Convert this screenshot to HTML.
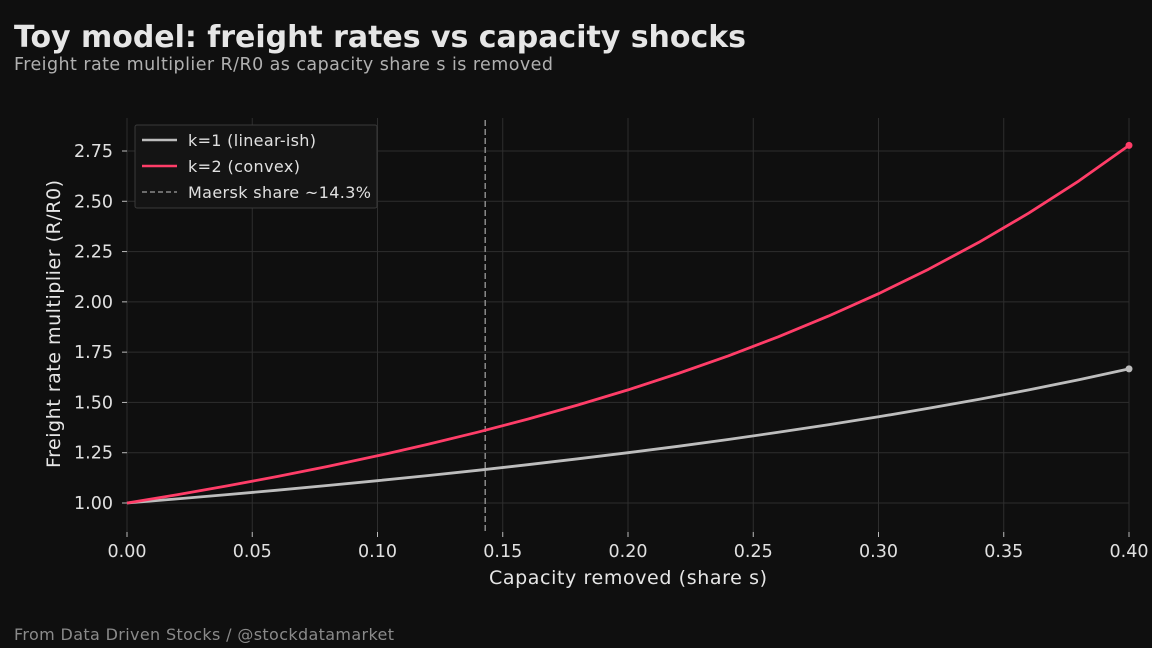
<!DOCTYPE html>
<html><head><meta charset="utf-8"><style>
html,body{margin:0;padding:0;background:#0f0f0f;}
svg{display:block;font-family:"DejaVu Sans","Liberation Sans",sans-serif;}
</style></head><body>
<svg id="chart" width="1152" height="648" viewBox="0 0 1152 648">
<rect width="1152" height="648" fill="#0f0f0f"/>
<text x="14" y="47" font-size="30" font-weight="bold" fill="#e6e6e6" textLength="732">Toy model: freight rates vs capacity shocks</text>
<text x="14" y="70" font-size="17.5" fill="#b0b0b0" textLength="539">Freight rate multiplier R/R0 as capacity share s is removed</text>
<g id="grid"></g>
<g id="axes"></g>
<g id="series"></g>
<text x="628" y="584" font-size="19" fill="#e6e6e6" text-anchor="middle" textLength="278">Capacity removed (share s)</text>
<text transform="translate(60,324) rotate(-90)" font-size="19" fill="#e6e6e6" text-anchor="middle" textLength="288">Freight rate multiplier (R/R0)</text>
<g>
<rect x="135" y="125" width="242" height="83" fill="#141414" stroke="#3a3a3a" rx="2"/>
<line x1="142" y1="140" x2="177" y2="140" stroke="#bdbdbd" stroke-width="2.5"/>
<text x="188" y="146" font-size="16" fill="#e0e0e0" textLength="128">k=1 (linear-ish)</text>
<line x1="142" y1="166" x2="177" y2="166" stroke="#ff3d68" stroke-width="2.5"/>
<text x="188" y="172" font-size="16" fill="#e0e0e0" textLength="112">k=2 (convex)</text>
<line x1="142" y1="192" x2="177" y2="192" stroke="#8a8a8a" stroke-width="1.5" stroke-dasharray="5,3"/>
<text x="188" y="198" font-size="16" fill="#e0e0e0" textLength="183">Maersk share ~14.3%</text>
</g>
<text x="14" y="640" font-size="16" fill="#8a8a8a" textLength="380">From Data Driven Stocks / @stockdatamarket</text>
</svg>
<script>
const shareValues=[0,0.02,0.04,0.06,0.08,0.10,0.12,0.14,0.16,0.18,0.20,0.22,0.24,0.26,0.28,0.30,0.32,0.34,0.36,0.38,0.40];
const k1Values=[1,1.0204,1.0417,1.0638,1.0870,1.1111,1.1364,1.1628,1.1905,1.2195,1.25,1.2821,1.3158,1.3514,1.3889,1.4286,1.4706,1.5152,1.5625,1.6129,1.6667];
const k2Values=[1,1.0412,1.0851,1.1317,1.1815,1.2346,1.2913,1.3521,1.4172,1.4872,1.5625,1.6437,1.7313,1.8262,1.9290,2.0408,2.1626,2.2957,2.4414,2.6015,2.7778];
const xTicks=[0,0.05,0.10,0.15,0.20,0.25,0.30,0.35,0.40];
const xTickLabels=["0.00","0.05","0.10","0.15","0.20","0.25","0.30","0.35","0.40"];
const yTicks=[1.00,1.25,1.50,1.75,2.00,2.25,2.50,2.75];
const yTickLabels=["1.00","1.25","1.50","1.75","2.00","2.25","2.50","2.75"];
const maerskShare=0.143;

const NS="http://www.w3.org/2000/svg";
const X0=127,X1=1129,Y0=503,Y1=151;
function xs(v){return X0+(v-0)/(0.40-0)*(X1-X0);}
function ys(v){return Y0+(v-1.00)/(2.75-1.00)*(Y1-Y0);}
function mk(tag,attrs,parent){const e=document.createElementNS(NS,tag);for(const k in attrs)e.setAttribute(k,attrs[k]);parent.appendChild(e);return e;}
const grid=document.getElementById('grid'),axes=document.getElementById('axes'),series=document.getElementById('series');
const PT=118,PB=532;
xTicks.forEach((t,i)=>{
  const g=mk('line',{x1:xs(t),x2:xs(t),y1:PT,y2:PB,stroke:'#2e2e2e','stroke-width':1},grid);
  
  
  const tk=mk('line',{x1:xs(t),x2:xs(t),y1:PB,y2:PB+5,stroke:'#bbb','stroke-width':1},axes);
  
  
  const tx=mk('text',{x:xs(t),y:557,'font-size':17.5,fill:'#e0e0e0','text-anchor':'middle'},axes);
  tx.textContent=xTickLabels[i];
  
  
});
yTicks.forEach((t,i)=>{
  const g=mk('line',{x1:X0,x2:X1,y1:ys(t),y2:ys(t),stroke:'#2e2e2e','stroke-width':1},grid);
  
  
  const tk=mk('line',{x1:X0-5,x2:X0,y1:ys(t),y2:ys(t),stroke:'#bbb','stroke-width':1},axes);
  
  
  const tx=mk('text',{x:113,y:ys(t)+6,'font-size':17.5,fill:'#e0e0e0','text-anchor':'end'},axes);
  tx.textContent=yTickLabels[i];
  
  
});
const dl=mk('line',{x1:xs(maerskShare),x2:xs(maerskShare),y1:120,y2:532,stroke:'#8a8a8a','stroke-width':1.5,'stroke-dasharray':'6,3'},series);


function drawSeries(vals,color,name){
  const d=vals.map((v,i)=>(i?'L':'M')+xs(shareValues[i]).toFixed(1)+','+ys(v).toFixed(1)).join(' ');
  const p=mk('path',{d:d,fill:'none',stroke:color,'stroke-width':2.8,'stroke-linejoin':'round'},series);
  
  
  const n=vals.length-1;
  const c=mk('circle',{cx:xs(shareValues[n]),cy:ys(vals[n]),r:3.5,fill:color},series);
  
  
}
drawSeries(k1Values,'#bdbdbd','k1-series');
drawSeries(k2Values,'#ff3d68','k2-series');
</script>
</body></html>
